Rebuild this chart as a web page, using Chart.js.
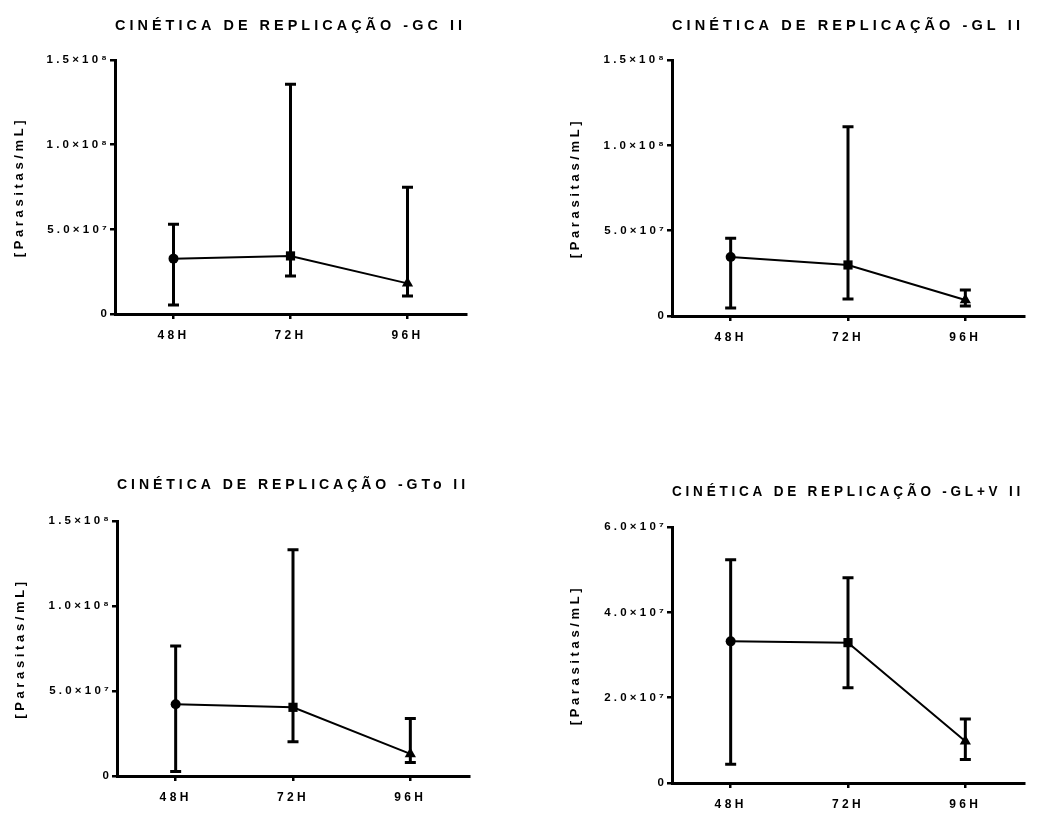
<!DOCTYPE html>
<html lang="pt-br">
<head>
    <meta charset="UTF-8">
    <title>Cinética de Replicação</title>
    <script src="https://cdn.jsdelivr.net/npm/chart.js"></script>
    <style>
        body { margin: 0; background: #fff; }
        .painel { position: absolute; }
    </style>
</head>
<body>

<div class="painel" style="left:0;top:0;width:490px;height:360px"><canvas id="g1" width="490" height="360"></canvas></div>
<div class="painel" style="left:540px;top:0;width:503px;height:360px"><canvas id="g2" width="503" height="360"></canvas></div>
<div class="painel" style="left:0;top:460px;width:490px;height:353px"><canvas id="g3" width="490" height="353"></canvas></div>
<div class="painel" style="left:540px;top:460px;width:503px;height:353px"><canvas id="g4" width="503" height="353"></canvas></div>

<script>
    // Dados
    const categorias = ['48H', '72H', '96H'];
    const eixoY = '[Parasitas/mL]';

    const tituloGC = 'CINÉTICA DE REPLICAÇÃO -GC II';
    const mediaGC = [3.27e7, 3.43e7, 1.81e7];
    const superiorGC = [5.3e7, 1.357e8, 7.48e7];
    const inferiorGC = [5.3e6, 2.24e7, 1.06e7];

    const tituloGL = 'CINÉTICA DE REPLICAÇÃO -GL II';
    const mediaGL = [3.46e7, 2.99e7, 9.4e6];
    const superiorGL = [4.55e7, 1.109e8, 1.52e7];
    const inferiorGL = [4.7e6, 1.0e7, 5.9e6];

    const tituloGTo = 'CINÉTICA DE REPLICAÇÃO -GTo II';
    const mediaGTo = [4.22e7, 4.04e7, 1.30e7];
    const superiorGTo = [7.64e7, 1.331e8, 3.38e7];
    const inferiorGTo = [2.6e6, 2.02e7, 8.0e6];

    const tituloGLV = 'CINÉTICA DE REPLICAÇÃO -GL+V II';
    const mediaGLV = [3.32e7, 3.29e7, 9.8e6];
    const superiorGLV = [5.23e7, 4.81e7, 1.5e7];
    const inferiorGLV = [4.4e6, 2.23e7, 5.5e6];

    const ticks150 = ['0', '5.0×10⁷', '1.0×10⁸', '1.5×10⁸'];
    const ticks60 = ['0', '2.0×10⁷', '4.0×10⁷', '6.0×10⁷'];

    const fonte = '"Liberation Sans", Arial, sans-serif';

    // espaçamento entre letras proporcional ao tamanho da fonte (como no original)
    const descFonte = Object.getOwnPropertyDescriptor(CanvasRenderingContext2D.prototype, 'font');
    Object.defineProperty(CanvasRenderingContext2D.prototype, 'font', {
        get() { return descFonte.get.call(this); },
        set(v) {
            descFonte.set.call(this, v);
            const m = /(\d+(?:\.\d+)?)px/.exec(v);
            if (m) this.letterSpacing = (parseFloat(m[1]) * 0.28).toFixed(2) + 'px';
        }
    });

    // barras de erro desenhadas com as escalas do gráfico
    const barrasErro = {
        id: 'barrasErro',
        beforeDatasetsDraw(chart) {
            const ctx = chart.ctx;
            const x = chart.scales.x, y = chart.scales.y;
            const ds = chart.data.datasets[0];
            ctx.save();
            ctx.strokeStyle = '#000';
            ctx.lineWidth = 3;
            ds.data.forEach((v, i) => {
                const px = x.getPixelForValue(i);
                const top = y.getPixelForValue(ds.superior[i]);
                const bot = y.getPixelForValue(ds.inferior[i]);
                ctx.beginPath();
                ctx.moveTo(px, top);
                ctx.lineTo(px, bot);
                ctx.moveTo(px - 5.5, top);
                ctx.lineTo(px + 5.5, top);
                ctx.moveTo(px - 5.5, bot);
                ctx.lineTo(px + 5.5, bot);
                ctx.stroke();
            });
            ctx.restore();
        }
    };

    function criarGrafico(id, cfg) {
        const ctx = document.getElementById(id).getContext('2d');
        new Chart(ctx, {
            type: 'line',
            data: {
                labels: categorias,
                datasets: [{
                    data: cfg.media,
                    superior: cfg.superior,
                    inferior: cfg.inferior,
                    borderColor: '#000',
                    backgroundColor: '#000',
                    borderWidth: 2,
                    tension: 0,
                    pointStyle: ['circle', 'rect', 'triangle'],
                    pointRadius: [5, 6.5, 6.5],
                    pointBorderWidth: 0,
                    clip: false
                }]
            },
            options: {
                responsive: false,
                animation: false,
                layout: { padding: { left: 0, right: cfg.padDir, top: 0, bottom: 0 } },
                plugins: {
                    legend: { display: false },
                    tooltip: { enabled: false },
                    title: {
                        display: true,
                        text: cfg.titulo,
                        fullSize: false,
                        color: '#000',
                        font: { family: fonte, size: 15, weight: 'bold' },
                        padding: { top: cfg.tituloTopo, bottom: cfg.tituloBase }
                    }
                },
                scales: {
                    x: {
                        offset: true,
                        border: { display: true, color: '#000', width: 3 },
                        grid: { display: true, drawOnChartArea: false, drawTicks: true, tickLength: 5, color: '#000', lineWidth: 2.5 },
                        ticks: { color: '#000', padding: 9, font: { family: fonte, size: 12, weight: 'bold' } },
                        afterFit: s => { s.height = cfg.alturaX; }
                    },
                    y: {
                        min: 0,
                        max: cfg.maxY,
                        border: { display: true, color: '#000', width: 3 },
                        grid: { display: true, drawOnChartArea: false, drawTicks: true, tickLength: 5, color: '#000', lineWidth: 2.5 },
                        ticks: {
                            stepSize: cfg.maxY / 3,
                            color: '#000',
                            padding: 0,
                            font: { family: fonte, size: 11.5, weight: 'bold' },
                            callback: (v, i) => cfg.rotulos[i]
                        },
                        title: {
                            display: true,
                            text: eixoY,
                            color: '#000',
                            font: { family: fonte, size: 13, weight: 'bold' },
                            padding: { top: cfg.padTituloY, bottom: 0 }
                        },
                        afterFit: s => { s.width = cfg.larguraY; }
                    }
                }
            },
            plugins: [barrasErro]
        });
    }

    document.addEventListener('DOMContentLoaded', () => {
        criarGrafico('g1', { titulo: tituloGC, media: mediaGC, superior: superiorGC, inferior: inferiorGC,
            maxY: 1.5e8, rotulos: ticks150, padDir: 24, tituloTopo: 17, tituloBase: 25, alturaX: 46, larguraY: 115, padTituloY: 12 });
        criarGrafico('g2', { titulo: tituloGL, media: mediaGL, superior: superiorGL, inferior: inferiorGL,
            maxY: 1.5e8, rotulos: ticks150, padDir: 19, tituloTopo: 17, tituloBase: 25, alturaX: 44, larguraY: 132, padTituloY: 28 });
        criarGrafico('g3', { titulo: tituloGTo, media: mediaGTo, superior: superiorGTo, inferior: inferiorGTo,
            maxY: 1.5e8, rotulos: ticks150, padDir: 21, tituloTopo: 16, tituloBase: 27, alturaX: 37, larguraY: 117, padTituloY: 13 });
        criarGrafico('g4', { titulo: tituloGLV, media: mediaGLV, superior: superiorGLV, inferior: inferiorGLV,
            maxY: 6e7, rotulos: ticks60, padDir: 19, tituloTopo: 23, tituloBase: 26, alturaX: 30, larguraY: 132, padTituloY: 28 });
    });
</script>

</body>
</html>
